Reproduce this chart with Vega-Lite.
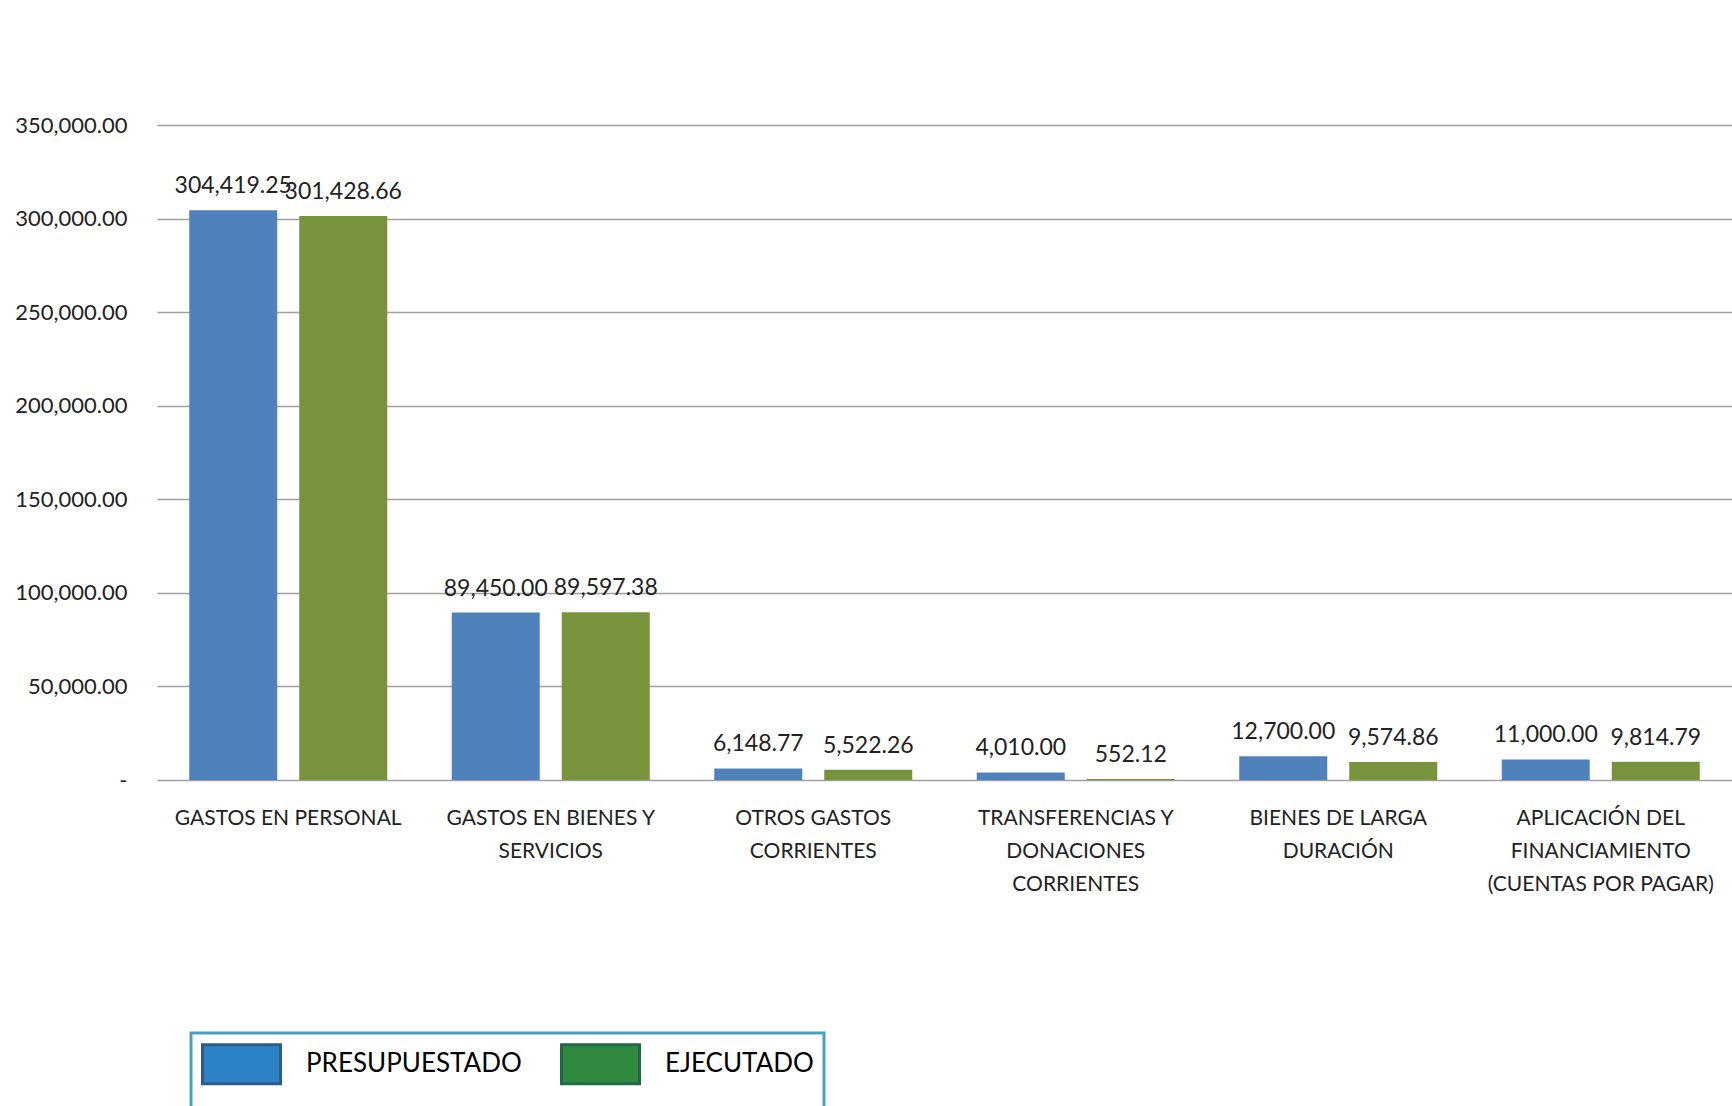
{
  "$schema": "https://vega.github.io/schema/vega-lite/v6.json",
  "autosize": {"type": "none"},
  "width": 1575,
  "height": 655,
  "padding": {"left": 157, "top": 125, "right": 0, "bottom": 326},
  "background": "#ffffff",
  "data": {
    "values": [
      {"categoria": "GASTOS EN PERSONAL", "tipo": "PRESUPUESTADO", "monto": 304419.25},
      {"categoria": "GASTOS EN PERSONAL", "tipo": "EJECUTADO", "monto": 301428.66},
      {"categoria": "GASTOS EN BIENES Y SERVICIOS", "tipo": "PRESUPUESTADO", "monto": 89450.00},
      {"categoria": "GASTOS EN BIENES Y SERVICIOS", "tipo": "EJECUTADO", "monto": 89597.38},
      {"categoria": "OTROS GASTOS CORRIENTES", "tipo": "PRESUPUESTADO", "monto": 6148.77},
      {"categoria": "OTROS GASTOS CORRIENTES", "tipo": "EJECUTADO", "monto": 5522.26},
      {"categoria": "TRANSFERENCIAS Y DONACIONES CORRIENTES", "tipo": "PRESUPUESTADO", "monto": 4010.00},
      {"categoria": "TRANSFERENCIAS Y DONACIONES CORRIENTES", "tipo": "EJECUTADO", "monto": 552.12},
      {"categoria": "BIENES DE LARGA DURACIÓN", "tipo": "PRESUPUESTADO", "monto": 12700.00},
      {"categoria": "BIENES DE LARGA DURACIÓN", "tipo": "EJECUTADO", "monto": 9574.86},
      {"categoria": "APLICACIÓN DEL FINANCIAMIENTO (CUENTAS POR PAGAR)", "tipo": "PRESUPUESTADO", "monto": 11000.00},
      {"categoria": "APLICACIÓN DEL FINANCIAMIENTO (CUENTAS POR PAGAR)", "tipo": "EJECUTADO", "monto": 9814.79}
    ]
  },
  "encoding": {
    "x": {
      "field": "categoria",
      "type": "nominal",
      "sort": null,
      "scale": {"paddingInner": 0, "paddingOuter": 0},
      "axis": {
        "title": null,
        "labelAngle": 0,
        "ticks": false,
        "domain": false,
        "labelBaseline": "top",
        "labelPadding": 27,
        "labelLineHeight": 33,
        "labelFontSize": 21,
        "labelColor": "#222222",
        "labelLimit": 0,
        "labelExpr": "datum.value === 'GASTOS EN BIENES Y SERVICIOS' ? ['GASTOS EN BIENES Y','SERVICIOS'] : datum.value === 'OTROS GASTOS CORRIENTES' ? ['OTROS GASTOS','CORRIENTES'] : datum.value === 'TRANSFERENCIAS Y DONACIONES CORRIENTES' ? ['TRANSFERENCIAS Y','DONACIONES','CORRIENTES'] : datum.value === 'BIENES DE LARGA DURACIÓN' ? ['BIENES DE LARGA','DURACIÓN'] : datum.value === 'APLICACIÓN DEL FINANCIAMIENTO (CUENTAS POR PAGAR)' ? ['APLICACIÓN DEL','FINANCIAMIENTO','(CUENTAS POR PAGAR)'] : datum.value"
      }
    },
    "xOffset": {
      "field": "tipo",
      "type": "nominal",
      "sort": ["PRESUPUESTADO", "EJECUTADO"],
      "scale": {"paddingInner": 0.2, "paddingOuter": 0.293}
    },
    "y": {
      "field": "monto",
      "type": "quantitative",
      "scale": {"domain": [0, 350000], "nice": false},
      "axis": {
        "title": null,
        "values": [0, 50000, 100000, 150000, 200000, 250000, 300000, 350000],
        "ticks": false,
        "domain": false,
        "grid": true,
        "gridColor": "#a0a0a0",
        "gridWidth": 1.5,
        "labelPadding": 30,
        "labelFontSize": 22,
        "labelColor": "#222222",
        "labelExpr": "datum.value === 0 ? '-' : format(datum.value, ',.2f')"
      }
    }
  },
  "layer": [
    {
      "mark": {"type": "bar"},
      "encoding": {
        "color": {
          "field": "tipo",
          "type": "nominal",
          "sort": ["PRESUPUESTADO", "EJECUTADO"],
          "scale": {"range": ["#4f81bd", "#77933c"]},
          "legend": null
        }
      }
    },
    {
      "mark": {"type": "bar"},
      "encoding": {
        "y": {"datum": 0, "type": "quantitative"},
        "fill": {
          "field": "tipo",
          "type": "nominal",
          "scale": {"domain": ["PRESUPUESTADO", "EJECUTADO"], "range": ["#2e83c6", "#2f8a3f"]},
          "legend": {
            "orient": "none",
            "legendX": 34,
            "legendY": 908,
            "title": "\u00a0\u00a0\u00a0\u00a0\u00a0\u00a0\u00a0\u00a0\u00a0\u00a0\u00a0\u00a0\u00a0\u00a0\u00a0\u00a0\u00a0\u00a0\u00a0\u00a0\u00a0\u00a0\u00a0\u00a0\u00a0\u00a0\u00a0\u00a0\u00a0\u00a0\u00a0\u00a0\u00a0\u00a0\u00a0\u00a0\u00a0\u00a0\u00a0\u00a0\u00a0\u00a0\u00a0\u00a0\u00a0\u00a0\u00a0\u00a0\u00a0\u00a0\u00a0\u00a0\u00a0\u00a0\u00a0\u00a0\u00a0\u00a0\u00a0\u00a0\u00a0\u00a0\u00a0\u00a0\u00a0\u00a0\u00a0\u00a0\u00a0\u00a0\u00a0\u00a0\u00a0\u00a0\u00a0\u00a0\u00a0\u00a0\u00a0\u00a0\u00a0\u00a0\u00a0\u00a0\u00a0\u00a0\u00a0\u00a0\u00a0\u00a0\u00a0\u00a0\u00a0\u00a0\u00a0\u00a0\u00a0\u00a0\u00a0\u00a0",
            "titleOrient": "bottom",
            "titleFontSize": 30,
            "titlePadding": 10,
            "titleLimit": 0,
            "direction": "horizontal",
            "columns": 2,
            "gridAlign": "each",
            "symbolType": "M-1,-1H3V1H-1Z",
            "symbolSize": 1521,
            "symbolStrokeWidth": 3,
            "labelFontSize": 26,
            "labelLimit": 0,
            "labelColor": "#000000",
            "labelOffset": 63,
            "columnPadding": 33,
            "padding": 10,
            "strokeColor": "#4aa0c4",
            "fillColor": "#ffffff",
            "encode": {
              "legend": {"update": {"strokeWidth": {"value": 3}}},
              "symbols": {
                "update": {
                  "stroke": {"signal": "datum.value === 'PRESUPUESTADO' ? '#2a5d8c' : '#226a47'"},
                  "fillOpacity": {"value": 1},
                  "opacity": {"value": 1}
                }
              }
            }
          }
        }
      }
    },
    {
      "mark": {"type": "text", "baseline": "bottom", "dy": -12, "fontSize": 23, "color": "#222222"},
      "encoding": {
        "text": {"field": "monto", "type": "quantitative", "format": ",.2f"}
      }
    }
  ],
  "config": {
    "font": "Lato",
    "view": {"stroke": null}
  }
}
